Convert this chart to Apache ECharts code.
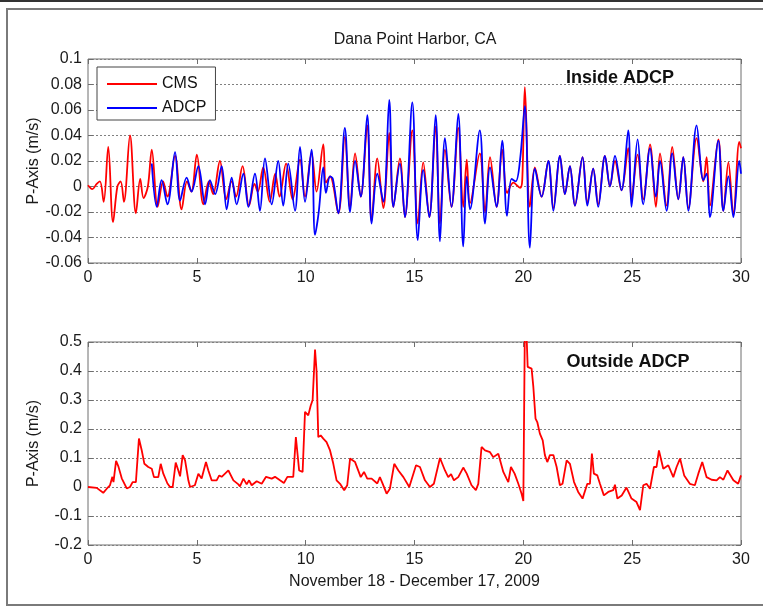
<!DOCTYPE html>
<html>
<head>
<meta charset="utf-8">
<script src="https://cdn.jsdelivr.net/npm/echarts@6/dist/echarts.min.js"></script>
<style>
html,body{margin:0;padding:0;background:#fff;}
#chart{width:763px;height:607px;}
</style>
</head>
<body>
<div id="chart"></div>
<script>
// ---- DATA ----
const titleText = 'Dana Point Harbor, CA';
const xLabel = 'November 18 - December 17, 2009';
const yLabel = 'P-Axis (m/s)';
const panelLabels = ['Inside ADCP', 'Outside ADCP'];
const seriesNames = ['CMS', 'ADCP'];
const xTicks = [0, 5, 10, 15, 20, 25, 30];
const topYTicks = [-0.06, -0.04, -0.02, 0, 0.02, 0.04, 0.06, 0.08, 0.1];
const bottomYTicks = [-0.2, -0.1, 0, 0.1, 0.2, 0.3, 0.4, 0.5];

// Inside ADCP panel, CMS model (day, m/s)
const insideCMS = [
[0,0.001],[0.2,-0.002],[0.4,0.002],[0.55,0.004],[0.72,-0.012],[0.93,0.031],[1.15,-0.028],[1.35,0.0],[1.5,0.004],[1.65,-0.012],
[1.93,0.040],[2.2,-0.021],[2.4,0.006],[2.55,-0.009],[2.75,0.0],[2.93,0.029],[3.2,-0.016],[3.45,0.004],[3.65,-0.008],[4.0,0.024],
[4.3,-0.018],[4.55,0.004],[4.75,-0.004],[5.0,0.025],[5.3,-0.014],[5.55,0.004],[5.75,-0.006],[6.06,0.020],[6.35,-0.010],[6.6,0.004],
[6.8,-0.008],[7.1,0.016],[7.4,-0.015],[7.65,0.002],[7.8,-0.004],[8.05,0.015],[8.35,-0.012],[8.6,0.010],[8.8,-0.008],[9.1,0.018],
[9.4,-0.010],[9.74,0.021],[9.97,-0.008],[10.27,0.026],[10.5,-0.004],[10.81,0.033],[10.93,0.003],[11.12,0.008],[11.5,-0.021],[11.8,0.039],
[12.04,-0.017],[12.27,0.026],[12.53,-0.008],[12.83,0.048],[13.03,-0.027],[13.29,0.022],[13.57,-0.017],[13.84,0.042],[14.03,-0.016],[14.33,0.022],
[14.56,-0.024],[14.9,0.044],[15.15,-0.029],[15.4,0.019],[15.68,-0.024],[15.97,0.047],[16.17,-0.029],[16.4,0.029],[16.7,-0.016],[17.01,0.046],
[17.24,-0.016],[17.4,0.021],[17.55,-0.013],[18.0,0.026],[18.24,-0.020],[18.47,0.023],[18.77,-0.016],[19.03,0.029],[19.26,-0.005],[19.54,0.003],
[19.85,-0.001],[19.95,0.005],[20.07,0.078],[20.3,-0.016],[20.53,0.015],[20.84,-0.008],[21.15,0.020],[21.38,-0.017],[21.68,0.024],[21.91,-0.006],
[22.14,0.016],[22.37,-0.015],[22.72,0.023],[22.94,-0.013],[23.21,0.014],[23.44,-0.014],[23.75,0.024],[23.98,0.0],[24.21,0.020],[24.51,-0.003],
[24.82,0.030],[24.97,-0.010],[25.25,0.025],[25.51,-0.010],[25.82,0.033],[26.09,-0.016],[26.28,0.026],[26.58,-0.015],[26.84,0.031],[27.12,-0.010],
[27.35,0.023],[27.58,-0.017],[27.96,0.038],[28.27,0.004],[28.42,0.023],[28.57,-0.015],[28.96,0.037],[29.19,-0.019],[29.42,0.019],[29.65,-0.022],
[29.92,0.035],[30,0.030]
];

// Inside ADCP panel, ADCP measurement (day, m/s)
const insideADCP = [
[2.93,0.018],[3.16,-0.016],[3.38,0.005],[3.65,-0.014],[4.0,0.027],[4.23,-0.011],[4.53,0.007],[4.76,-0.004],[5.07,0.016],[5.38,-0.014],
[5.6,0.005],[5.84,-0.006],[6.14,0.016],[6.37,-0.018],[6.6,0.007],[6.83,-0.014],[7.14,0.010],[7.37,-0.016],[7.67,0.010],[7.9,-0.019],
[8.13,0.022],[8.44,-0.014],[8.74,0.020],[8.97,-0.015],[9.2,0.018],[9.51,-0.019],[9.74,0.031],[9.97,-0.012],[10.27,0.029],[10.43,-0.038],
[10.6,-0.020],[10.81,0.015],[10.93,-0.005],[11.12,0.008],[11.25,0.006],[11.5,-0.021],[11.8,0.046],[12.04,-0.020],[12.27,0.020],[12.53,-0.008],
[12.83,0.056],[13.03,-0.029],[13.29,0.010],[13.57,-0.012],[13.84,0.068],[14.03,-0.016],[14.33,0.018],[14.56,-0.024],[14.9,0.066],[15.15,-0.042],
[15.4,0.013],[15.68,-0.024],[15.97,0.056],[16.17,-0.043],[16.4,0.038],[16.7,-0.016],[17.01,0.057],[17.24,-0.047],[17.4,0.008],[17.55,-0.018],
[18.0,0.044],[18.24,-0.029],[18.47,0.015],[18.77,-0.016],[19.03,0.036],[19.25,-0.023],[19.46,0.006],[19.65,0.004],[19.85,0.021],[20.07,0.063],
[20.3,-0.048],[20.53,0.014],[20.84,-0.008],[21.15,0.020],[21.38,-0.019],[21.68,0.024],[21.91,-0.006],[22.14,0.016],[22.37,-0.015],[22.72,0.023],
[22.94,-0.015],[23.21,0.014],[23.44,-0.016],[23.75,0.024],[23.98,0.0],[24.21,0.024],[24.51,-0.003],[24.82,0.044],[24.97,-0.016],[25.25,0.037],
[25.51,-0.014],[25.82,0.030],[26.09,-0.008],[26.28,0.020],[26.58,-0.019],[26.84,0.026],[27.12,-0.010],[27.35,0.023],[27.58,-0.019],[27.96,0.048],
[28.27,0.005],[28.42,0.010],[28.57,-0.024],[28.96,0.036],[29.19,-0.019],[29.42,0.008],[29.65,-0.024],[29.92,0.020],[30,0.010]
];

// Outside ADCP panel, CMS model (day, m/s)
const outsideCMS = [
[0,0],[0.4,-0.003],[0.7,-0.02],[0.86,-0.006],[1.01,0.006],[1.12,0.035],[1.17,0.017],[1.29,0.09],[1.4,0.07],[1.55,0.03],
[1.78,-0.005],[1.93,0.0],[2.05,0.017],[2.2,0.017],[2.34,0.167],[2.47,0.126],[2.59,0.08],[2.77,0.069],[2.93,0.063],[3.03,0.034],
[3.23,0.034],[3.34,0.08],[3.46,0.046],[3.65,0.012],[3.77,0.0],[3.89,0.0],[4.03,0.084],[4.15,0.057],[4.23,0.037],[4.35,0.11],
[4.46,0.092],[4.61,0.023],[4.69,0.0],[4.91,0.006],[5.07,0.046],[5.22,0.029],[5.42,0.086],[5.53,0.057],[5.68,0.023],[5.91,0.023],
[6.03,0.04],[6.14,0.035],[6.45,0.057],[6.68,0.023],[6.91,0.009],[6.98,0.002],[7.14,0.029],[7.29,0.009],[7.4,0.023],[7.52,0.006],
[7.75,0.02],[7.98,0.011],[8.18,0.035],[8.44,0.029],[8.59,0.035],[8.82,0.023],[9.0,0.014],[9.16,0.035],[9.43,0.035],[9.55,0.172],
[9.7,0.057],[9.86,0.052],[9.97,0.259],[10.12,0.247],[10.23,0.28],[10.32,0.3],[10.43,0.474],[10.5,0.40],[10.58,0.172],[10.69,0.178],
[10.81,0.167],[10.96,0.155],[11.12,0.126],[11.27,0.08],[11.42,0.023],[11.58,0.011],[11.77,-0.011],[11.91,0.006],[12.04,0.098],[12.27,0.086],
[12.53,0.034],[12.68,0.052],[12.83,0.029],[13.03,0.029],[13.29,0.012],[13.41,0.034],[13.54,0.011],[13.72,-0.023],[13.87,-0.006],[14.07,0.08],
[14.26,0.057],[14.49,0.034],[14.76,0.0],[15.07,0.075],[15.25,0.069],[15.48,0.023],[15.71,0.0],[15.89,0.011],[16.17,0.1],[16.4,0.057],
[16.55,0.034],[16.68,0.044],[16.81,0.023],[17.01,0.034],[17.24,0.067],[17.4,0.046],[17.62,0.006],[17.82,-0.011],[17.93,0.011],[18.08,0.138],
[18.24,0.126],[18.47,0.12],[18.62,0.103],[18.85,0.115],[19.08,0.052],[19.23,0.029],[19.31,0.017],[19.43,0.069],[19.6,0.046],[19.77,0.011],
[19.92,-0.023],[20.0,-0.048],[20.07,0.55],[20.15,0.52],[20.2,0.414],[20.38,0.408],[20.46,0.345],[20.56,0.236],[20.64,0.224],[20.76,0.184],
[20.89,0.161],[20.99,0.11],[21.1,0.086],[21.22,0.11],[21.38,0.11],[21.53,0.069],[21.68,0.006],[21.8,0.011],[21.99,0.092],[22.14,0.08],
[22.33,0.017],[22.52,-0.017],[22.72,-0.04],[22.94,0.011],[23.06,0.011],[23.15,0.115],[23.24,0.046],[23.4,0.04],[23.52,0.011],[23.7,-0.029],
[23.9,-0.017],[24.13,-0.011],[24.21,0.008],[24.32,-0.04],[24.52,-0.029],[24.74,-0.002],[24.97,-0.04],[25.2,-0.052],[25.36,-0.08],[25.51,0.006],
[25.66,0.011],[25.82,-0.006],[26.0,0.069],[26.12,0.069],[26.23,0.126],[26.43,0.063],[26.66,0.075],[26.89,0.034],[27.04,0.069],[27.2,0.098],
[27.39,0.04],[27.65,0.011],[27.88,0.006],[28.04,0.046],[28.22,0.086],[28.42,0.034],[28.65,0.025],[28.88,0.023],[29.03,0.034],[29.19,0.025],
[29.38,0.057],[29.65,0.023],[29.87,0.011],[30.0,0.04]
];

// ---- CHART ----
const FONT = '"Liberation Sans", Arial, Helvetica, sans-serif';
const AX = '#6e6e6e';
const chart = echarts.init(document.getElementById('chart'), null, {renderer: 'canvas'});

function fmt(dec) { return v => String(+Number(v).toFixed(dec)); }

function xAxes(grid, withLabels, name) {
  const base = {
    gridIndex: grid, type: 'value', min: xTicks[0], max: xTicks[xTicks.length - 1],
    interval: xTicks[1] - xTicks[0],
    axisLine: {show: false, onZero: false},
    axisTick: {show: true, inside: true, length: 5, lineStyle: {color: AX, width: 1}},
    splitLine: {show: false}
  };
  return [
    Object.assign({}, base, {
      position: 'bottom',
      axisLabel: {show: withLabels, color: '#1a1a1a', fontSize: 16, fontFamily: FONT, margin: 7, formatter: fmt(0)},
      name: name || '', nameLocation: 'middle', nameGap: 29, nameMoveOverlap: false,
      nameTextStyle: {color: '#1a1a1a', fontSize: 16, fontFamily: FONT}
    }),
    Object.assign({}, base, {position: 'top', axisLabel: {show: false}})
  ];
}

function yAxes(grid, ticks, dec, gap) {
  const base = {
    gridIndex: grid, type: 'value', min: ticks[0], max: ticks[ticks.length - 1],
    interval: +(ticks[1] - ticks[0]).toFixed(dec),
    axisLine: {show: false, onZero: false},
    axisTick: {show: true, inside: true, length: 5, lineStyle: {color: AX, width: 1}}
  };
  return [
    Object.assign({}, base, {
      position: 'left',
      axisLabel: {color: '#1a1a1a', fontSize: 16, fontFamily: FONT, margin: 6, formatter: fmt(dec)},
      splitLine: {show: true, lineStyle: {color: '#808080', type: [2, 2], width: 1}},
      name: yLabel, nameLocation: 'middle', nameGap: gap, nameRotate: 90, nameMoveOverlap: false,
      nameTextStyle: {color: '#1a1a1a', fontSize: 16, fontFamily: FONT}
    }),
    Object.assign({}, base, {position: 'right', axisLabel: {show: false}, splitLine: {show: false}})
  ];
}

const option = {
  animation: false,
  backgroundColor: '#ffffff',
  textStyle: {fontFamily: FONT},
  grid: [
    {left: 88, top: 59, width: 653, height: 204, show: true, borderColor: AX, borderWidth: 1, backgroundColor: 'transparent'},
    {left: 88, top: 342, width: 653, height: 203, show: true, borderColor: AX, borderWidth: 1, backgroundColor: 'transparent'}
  ],
  xAxis: [].concat(xAxes(0, true), xAxes(1, true, xLabel)),
  yAxis: [].concat(yAxes(0, topYTicks, 2, 46), yAxes(1, bottomYTicks, 1, 46)),
  legend: {
    data: seriesNames,
    orient: 'vertical', left: 97, top: 67,
    icon: 'rect', itemWidth: 50, itemHeight: 2, itemGap: 8,
    padding: [9, 9, 4, 10],
    borderColor: '#444', borderWidth: 1, backgroundColor: '#ffffff',
    textStyle: {fontSize: 16, color: '#111', fontFamily: FONT}
  },
  series: [
    {name: seriesNames[0], type: 'line', xAxisIndex: 0, yAxisIndex: 0, data: insideCMS,
     symbol: 'none', smooth: 0.35, lineStyle: {color: '#ff0000', width: 1.8}, itemStyle: {color: '#ff0000'}, z: 2},
    {name: seriesNames[1], type: 'line', xAxisIndex: 0, yAxisIndex: 0, data: insideADCP,
     symbol: 'none', smooth: 0.35, lineStyle: {color: '#0000ff', width: 1.8}, itemStyle: {color: '#0000ff'}, z: 3},
    {name: 'CMS (outside)', type: 'line', xAxisIndex: 2, yAxisIndex: 2, data: outsideCMS,
     symbol: 'none', clip: true, lineStyle: {color: '#ff0000', width: 1.8}, itemStyle: {color: '#ff0000'}, z: 2}
  ],
  graphic: [
    {type: 'rect', z: -10, shape: {x: 0, y: 0, width: 763, height: 2}, style: {fill: '#333'}},
    {type: 'rect', z: -10, shape: {x: 7, y: 9, width: 770, height: 596}, style: {fill: 'none', stroke: '#7a7a7a', lineWidth: 2}},
    {type: 'text', x: 415, y: 40, style: {text: titleText, font: '16px ' + FONT, fill: '#1a1a1a', align: 'center', verticalAlign: 'middle', textAlign: 'center', textVerticalAlign: 'middle'}},
    {type: 'text', x: 620, y: 78, z: 10, style: {text: panelLabels[0], font: 'bold 18px ' + FONT, fill: '#111', align: 'center', verticalAlign: 'middle', textAlign: 'center', textVerticalAlign: 'middle'}},
    {type: 'text', x: 628, y: 362, z: 10, style: {text: panelLabels[1], font: 'bold 18px ' + FONT, fill: '#111', align: 'center', verticalAlign: 'middle', textAlign: 'center', textVerticalAlign: 'middle'}}
  ]
};
chart.setOption(option);
</script>
</body>
</html>
